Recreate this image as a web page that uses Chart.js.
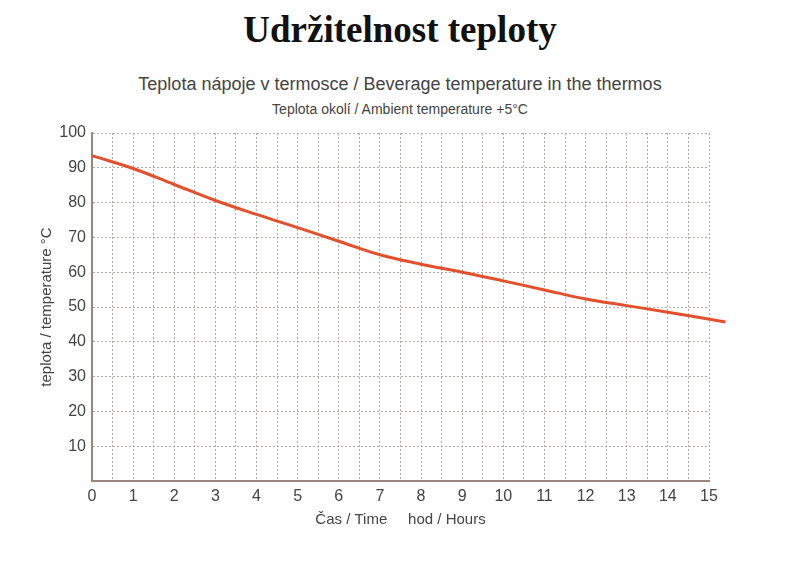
<!DOCTYPE html>
<html><head><meta charset="utf-8">
<script src="https://cdn.jsdelivr.net/npm/chart.js@4"></script>
<style>
body{margin:0;width:800px;height:565px;background:#fff;position:relative;overflow:hidden}
.t{position:absolute;left:0;width:800px;text-align:center;white-space:nowrap}
#h{top:8px;font:bold 37px "Liberation Serif",serif;color:#111}
#s1{top:74px;font:18px "Liberation Sans",Arial,sans-serif;color:#444}
#s2{top:101px;font:14px "Liberation Sans",Arial,sans-serif;color:#444}
canvas{position:absolute;left:0;top:0}
</style></head><body>
<div class="t" id="h">Udržitelnost teploty</div>
<div class="t" id="s1">Teplota nápoje v termosce / Beverage temperature in the thermos</div>
<div class="t" id="s2">Teplota okolí / Ambient temperature +5°C</div>
<canvas id="c" width="800" height="565"></canvas>
<script>
const hours = [0,1,2,3,4,5,6,7,8,9,10,11,12,13,14,15.4];
const temps = [93.5,89.8,85.2,80.6,76.6,72.8,68.9,65.0,62.3,60.0,57.5,54.9,52.3,50.4,48.5,45.7];
const yTitle = 'teplota / temperature °C';
const xTitle = 'Čas / Time     hod / Hours';
new Chart(document.getElementById('c'), {
  type:'line',
  data:{datasets:[{data:hours.map((h,i)=>({x:h,y:temps[i]})),borderColor:'#e2502c',borderWidth:3,pointRadius:0,tension:0.4,clip:false}]},
  options:{
    responsive:false,animation:false,
    layout:{padding:{top:133,left:34,right:91,bottom:32}},
    plugins:{legend:{display:false},tooltip:{enabled:false}},
    scales:{
      x:{type:'linear',min:0,max:15,
        afterFit:s=>{s.height=52},
        afterBuildTicks:s=>{const t=[];for(let v=0;v<=15;v+=0.5)t.push({value:v});s.ticks=t;},
        ticks:{autoSkip:false,maxRotation:0,color:'#444',font:{family:'Liberation Sans',size:16},padding:6,
          callback:v=>Number.isInteger(v)?v:''},
        grid:{color:'#b5aaa8',lineWidth:1,drawTicks:false},
        border:{display:true,color:'#9a8580',width:2,dash:[2,2]},
        title:{display:true,text:xTitle,color:'#444',font:{family:'Liberation Sans',size:15},padding:{top:6}}
      },
      y:{min:0,max:100,
        afterFit:s=>{s.width=58},
        ticks:{stepSize:10,color:'#444',font:{family:'Liberation Sans',size:16},padding:6,callback:v=>v===0?'':v},
        grid:{color:'#b5aaa8',lineWidth:1,drawTicks:false},
        border:{display:true,color:'#9a8580',width:2,dash:[2,2]},
        title:{display:true,text:yTitle,color:'#444',font:{family:'Liberation Sans',size:15},padding:{bottom:4}}
      }
    }
  }
});
</script>
</body></html>
